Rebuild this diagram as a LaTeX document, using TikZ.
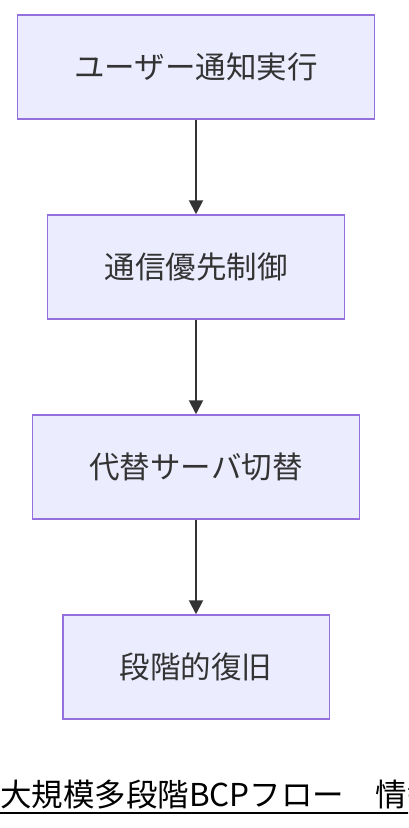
\documentclass[tikz,border=0pt]{standalone}
\usepackage{fontspec}
\setmainfont{Noto Sans CJK JP}
\usetikzlibrary{positioning,arrows.meta}
\definecolor{boxfill}{HTML}{ECECFF}
\definecolor{boxline}{HTML}{9370DB}
\definecolor{arrowcol}{HTML}{333333}
\tikzset{
	stepbox/.style={rectangle,draw=boxline,fill=boxfill,line width=1.5pt,minimum height=104pt,inner xsep=57pt,font=\fontsize{30.5}{36}\selectfont,text=arrowcol},
	flow/.style={draw=arrowcol,line width=2pt,-{Triangle[length=14pt,width=14pt]}}
}
\begin{document}
\begin{tikzpicture}[x=1pt,y=-1pt,node distance=94.5pt]
		\clip (0,0) rectangle (408,828);
		\useasboundingbox (0,0) rectangle (408,828);
		\node [stepbox] (notify) at (196,67) {ユーザー通知実行};
		\node [stepbox,below=of notify] (priority) {通信優先制御};
		\node [stepbox,below=of priority] (switch) {代替サーバ切替};
		\node [stepbox,below=of switch] (recover) {段階的復旧};
		\draw [flow] (notify) -- (priority);
		\draw [flow] (priority) -- (switch);
		\draw [flow] (switch) -- (recover);
		% caption, cut off at the right edge
		\node [anchor=base west,inner sep=0pt,font=\fontsize{31.5}{38}\selectfont] (title) at (0,806) {大規模多段階BCPフロー　情報};
		\draw [line width=2pt] ([yshift=-7pt]title.base west) -- ([yshift=-7pt]title.base east);
	\end{tikzpicture}
\end{document}
